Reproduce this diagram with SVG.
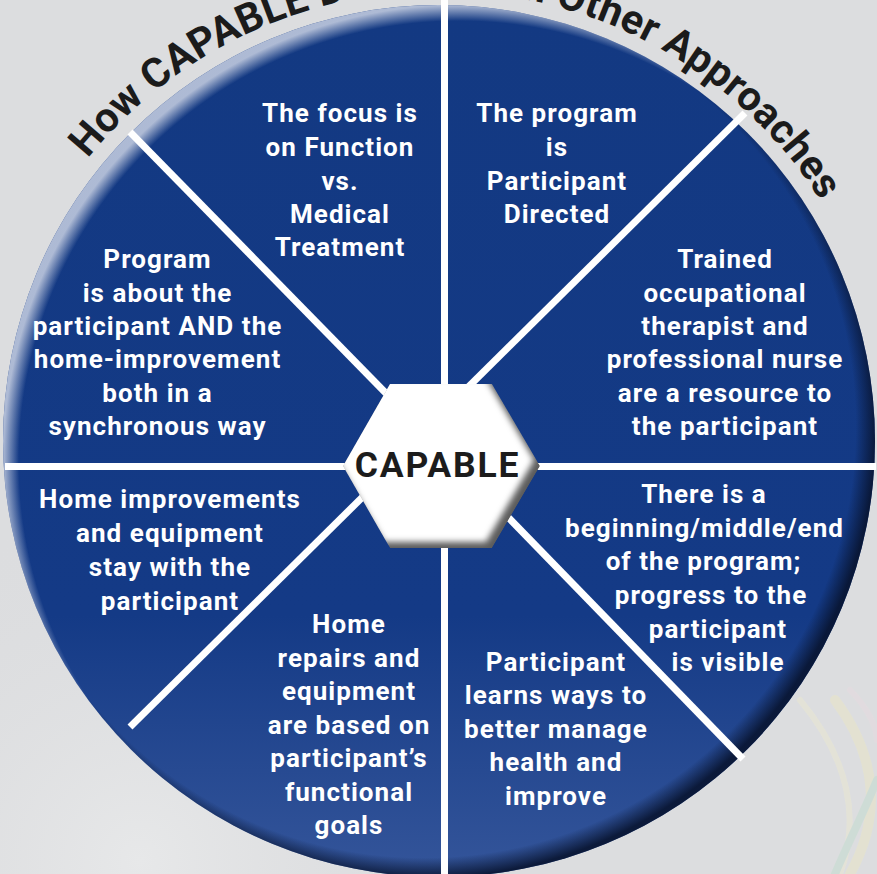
<svg xmlns="http://www.w3.org/2000/svg" width="877" height="874" viewBox="0 0 877 874">
  <defs>
    <style>
      .seg { font-family: Roboto, "Liberation Sans", Arial, sans-serif; font-weight: 700; font-size: 26px; letter-spacing: 1.05px; fill: #ffffff; text-anchor: middle; }
      .title { font-family: Roboto, "Liberation Sans", Arial, sans-serif; font-weight: 700; font-size: 41px; letter-spacing: 0.3px; fill: #1b1b1b; }
      .hub { font-family: Roboto, "Liberation Sans", Arial, sans-serif; font-weight: 700; font-size: 35.5px; letter-spacing: 1.8px; fill: #1c1c1c; text-anchor: middle; }
      .spoke { stroke: #ffffff; stroke-width: 7; stroke-linecap: butt; fill: none; }
      .swirl { fill: none; stroke-linecap: round; }
    </style>
    <radialGradient id="bgGlow" gradientUnits="userSpaceOnUse" cx="140" cy="860" r="360">
      <stop offset="0" stop-color="#e7e8e9"/>
      <stop offset="1" stop-color="#dcdddf" stop-opacity="0"/>
    </radialGradient>
    <linearGradient id="discFill" gradientUnits="userSpaceOnUse" x1="0" y1="5" x2="0" y2="877">
      <stop offset="0" stop-color="#133982"/>
      <stop offset="0.7" stop-color="#143a86"/>
      <stop offset="1" stop-color="#34559a"/>
    </linearGradient>
    <radialGradient id="rimLight" gradientUnits="userSpaceOnUse" cx="459" cy="461" r="456">
      <stop offset="0.965" stop-color="#c9d1e3" stop-opacity="0"/>
      <stop offset="1" stop-color="#c9d1e3" stop-opacity="0.85"/>
    </radialGradient>
    <radialGradient id="rimShade" gradientUnits="userSpaceOnUse" cx="424" cy="426" r="452">
      <stop offset="0.955" stop-color="#081430" stop-opacity="0"/>
      <stop offset="1" stop-color="#081430" stop-opacity="0.9"/>
    </radialGradient>
    <clipPath id="hexClip">
      <polygon points="343,466 390,384 492,384 540,466 492,548 390,548"/>
    </clipPath>
    <filter id="soften" x="-10%" y="-10%" width="120%" height="120%">
      <feGaussianBlur stdDeviation="3"/>
    </filter>
    <path id="titleArc" d="M -13,443 A 452 452 0 0 1 891,443"/>
  </defs>

  <!-- backdrop -->
  <rect x="0" y="0" width="877" height="874" fill="#dcdddf"/>
  <rect x="0" y="0" width="877" height="874" fill="url(#bgGlow)"/>
  <g id="backdrop-swirls" opacity="0.35">
    <path class="swirl" d="M 835 700 C 880 760 880 820 850 874" stroke="#f0ebb8" stroke-width="10"/>
    <path class="swirl" d="M 800 700 C 850 760 860 820 840 874" stroke="#f2eec9" stroke-width="6"/>
    <path class="swirl" d="M 877 780 C 860 820 845 850 835 874" stroke="#b7dcc7" stroke-width="8"/>
    <path class="swirl" d="M 850 690 C 870 710 877 730 877 740" stroke="#ecd9df" stroke-width="6"/>
  </g>

  <!-- title around the disc -->
  <text class="title"><textPath href="#titleArc" startOffset="736" text-anchor="middle">How CAPABLE Differs from Other Approaches</textPath></text>

  <!-- disc -->
  <g id="disc">
    <circle cx="439" cy="441" r="436" fill="url(#discFill)"/>
    <circle cx="439" cy="441" r="436" fill="url(#rimLight)"/>
    <circle cx="439" cy="441" r="436" fill="url(#rimShade)"/>
  </g>

  <!-- dividers between the segments -->
  <g id="connectors">
    <line class="spoke" x1="444.5" y1="0" x2="444.5" y2="874"/>
    <line class="spoke" x1="5" y1="466.5" x2="876" y2="466.5"/>
    <line class="spoke" x1="130" y1="132" x2="420" y2="428"/>
    <line class="spoke" x1="745" y1="113" x2="440" y2="415"/>
    <line class="spoke" x1="130" y1="727" x2="400" y2="460"/>
    <line class="spoke" x1="743" y1="759" x2="470" y2="478"/>
  </g>

  <!-- centre hexagon -->
  <g id="hub">
    <g clip-path="url(#hexClip)">
      <polygon points="343,466 390,384 492,384 540,466 492,548 390,548" fill="#5c5c5c"/>
      <polygon points="343,466 390,384 492,384 540,466 492,548 390,548" fill="#ffffff" transform="translate(-6,-6)" filter="url(#soften)"/>
    </g>
    <text class="hub" x="437.5" y="477">CAPABLE</text>
  </g>

  <!-- segments -->
  <g id="seg-function">
    <text class="seg" x="340" y="122">The focus is</text>
    <text class="seg" x="340" y="156">on Function</text>
    <text class="seg" x="340" y="190">vs.</text>
    <text class="seg" x="340" y="223">Medical</text>
    <text class="seg" x="340" y="256">Treatment</text>
  </g>
  <g id="seg-directed">
    <text class="seg" x="557" y="122">The program</text>
    <text class="seg" x="557" y="156">is</text>
    <text class="seg" x="557" y="190">Participant</text>
    <text class="seg" x="557" y="223">Directed</text>
  </g>
  <g id="seg-resource">
    <text class="seg" x="725" y="267.5">Trained</text>
    <text class="seg" x="725" y="301.5">occupational</text>
    <text class="seg" x="725" y="334.5">therapist and</text>
    <text class="seg" x="725" y="368">professional nurse</text>
    <text class="seg" x="725" y="401.5">are a resource to</text>
    <text class="seg" x="725" y="435">the participant</text>
  </g>
  <g id="seg-progress">
    <text class="seg" x="704" y="502.5">There is a</text>
    <text class="seg" x="704.5" y="536.5">beginning/middle/end</text>
    <text class="seg" x="703.5" y="570">of the program;</text>
    <text class="seg" x="711" y="604">progress to the</text>
    <text class="seg" x="718" y="637.5">participant</text>
    <text class="seg" x="728" y="671">is visible</text>
  </g>
  <g id="seg-health">
    <text class="seg" x="556" y="670.5">Participant</text>
    <text class="seg" x="556" y="704">learns ways to</text>
    <text class="seg" x="556" y="737.5">better manage</text>
    <text class="seg" x="556" y="771">health and</text>
    <text class="seg" x="556" y="804.5">improve</text>
  </g>
  <g id="seg-goals">
    <text class="seg" x="349" y="632.5">Home</text>
    <text class="seg" x="349" y="666.5">repairs and</text>
    <text class="seg" x="349" y="699.5">equipment</text>
    <text class="seg" x="349" y="733.5">are based on</text>
    <text class="seg" x="349" y="766.5">participant’s</text>
    <text class="seg" x="349" y="800.5">functional</text>
    <text class="seg" x="349" y="833.5">goals</text>
  </g>
  <g id="seg-stay">
    <text class="seg" x="170" y="507.5">Home improvements</text>
    <text class="seg" x="170" y="541.5">and equipment</text>
    <text class="seg" x="170" y="575.5">stay with the</text>
    <text class="seg" x="170" y="609.5">participant</text>
  </g>
  <g id="seg-synchronous">
    <text class="seg" x="157.5" y="267.5">Program</text>
    <text class="seg" x="157.5" y="301.5">is about the</text>
    <text class="seg" x="157.5" y="334.5">participant AND the</text>
    <text class="seg" x="157.5" y="368">home-improvement</text>
    <text class="seg" x="157.5" y="401.5">both in a</text>
    <text class="seg" x="157.5" y="435">synchronous way</text>
  </g>
</svg>
